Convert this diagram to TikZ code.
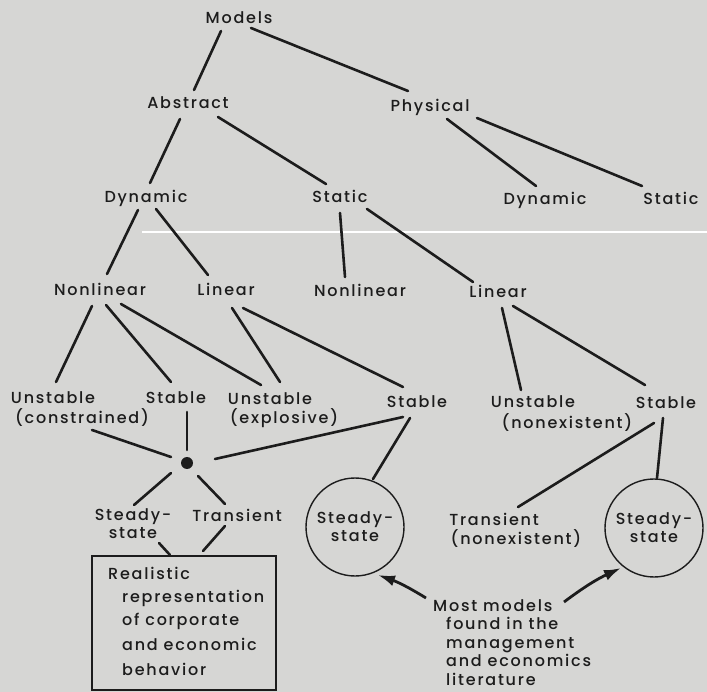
\documentclass[tikz,border=0pt]{standalone}
\usepackage{fontspec}
\setmainfont{Poppins}[LetterSpace=11, UprightFont={* Medium}]
\usetikzlibrary{calc,arrows.meta}
\definecolor{bg}{RGB}{214,214,212}
\definecolor{ink}{RGB}{28,28,28}
\begin{document}
\begin{tikzpicture}[x=1pt,y=-1pt,
  txt/.style={text=ink, font=\fontsize{16}{18}\selectfont, inner sep=0pt},
  lbl/.style={txt, text height=12pt, text depth=0pt},
  conn/.style={draw=ink, line width=2.6pt, line cap=round},
  circ/.style={txt, circle, draw=ink, line width=1.4pt, align=center, minimum size=98pt},
  arr/.style={draw=ink, line width=2.8pt, -{Latex[length=17pt,width=11pt]}}]
\fill[bg] (0,0) rectangle (707,692);
\useasboundingbox (0,0) rectangle (707,692);
\draw[white, line width=1.6pt] (142,232) -- (707,232);

% nodes
\node[lbl] (models) at (239,18) {Models};
\node[lbl] (abstract) at (188,103) {Abstract};
\node[lbl] (physical) at (430,106) {Physical};
\node[lbl] (dynA) at (146,197) {Dynamic};
\node[lbl] (statA) at (340,197) {Static};
\node[lbl] (dynP) at (545,199) {Dynamic};
\node[lbl] (statP) at (671,199) {Static};
\node[lbl] (nonL) at (100,290) {Nonlinear};
\node[lbl] (linL) at (226,290) {Linear};
\node[lbl] (nonM) at (360,291) {Nonlinear};
\node[lbl] (linR) at (498,292) {Linear};
\node[lbl] (uc1) at (53,398) {Unstable};
\node[lbl] (uc2) at (82,418) {(constrained)};
\node[lbl] (stabL) at (176,398) {Stable};
\node[lbl] (ue1) at (270,399) {Unstable};
\node[lbl] (ue2) at (284,418) {(explosive)};
\node[lbl] (stabM) at (417,402) {Stable};
\node[lbl] (un1) at (533,402) {Unstable};
\node[lbl] (un2) at (567,423) {(nonexistent)};
\node[lbl] (stabR) at (666,403) {Stable};
\node[circle, fill=ink, minimum size=12pt, inner sep=0pt] (dot) at (187,463) {};
\node[txt, align=center] (ssL) at (133,524) {Steady-\\state};
\node[lbl] (trL) at (237,515) {Transient};
\node[circ] (circL) at (355,527) {Steady-\\state};
\node[lbl] (trN1) at (494,519) {Transient};
\node[lbl] (trN2) at (516,538) {(nonexistent)};
\node[circ] (circR) at (654,528) {Steady-\\state};
\node[draw=ink, line width=1.8pt, minimum width=184pt, minimum height=134pt, inner sep=0pt] (box) at (184,623) {};
\node[lbl, anchor=west] (b1) at (108,573) {Realistic};
\node[lbl, anchor=west] (b2) at (122,596) {representation};
\node[lbl, anchor=west] (b3) at (122,619) {of corporate};
\node[lbl, anchor=west] (b4) at (122,644) {and economic};
\node[lbl, anchor=west] (b5) at (122,669) {behavior};
\node[lbl, anchor=west] (m1) at (433,605) {Most models};
\node[lbl, anchor=west] (m2) at (446,623) {found in the};
\node[lbl, anchor=west] (m3) at (446,642) {management};
\node[lbl, anchor=west] (m4) at (446,660) {and economics};
\node[lbl, anchor=west] (m5) at (446,679) {literature};

% connectors
\draw[conn] ($(models)+(-18,13)$) -- ($(abstract)+(6,-13)$);
\draw[conn] ($(models)+(12,10)$) -- ($(physical)+(-22,-15)$);
\draw[conn] ($(abstract)+(-8,16)$) -- ($(dynA)+(4,-14)$);
\draw[conn] ($(abstract)+(30,14)$) -- ($(statA)+(-14,-13)$);
\draw[conn] ($(physical)+(17,13)$) -- ($(dynP)+(-9,-13)$);
\draw[conn] ($(physical)+(47,12)$) -- ($(statP)+(-29,-13)$);
\draw[conn] ($(dynA)+(-8,13)$) -- ($(nonL)+(7,-16)$);
\draw[conn] ($(dynA)+(10,12)$) -- ($(linL)+(-18,-15)$);
\draw[conn] ($(statA)+(0,16)$) -- ($(nonM)+(-15,-14)$);
\draw[conn] ($(statA)+(27,12)$) -- ($(linR)+(-25,-10)$);
\draw[conn] ($(nonL)+(-8,16)$) -- ($(uc1)+(3,-16)$);
\draw[conn] ($(nonL)+(6,15)$) -- ($(stabL)+(-5,-16)$);
\draw[conn] ($(nonL)+(21,14)$) -- ($(ue1)+(-9,-14)$);
\draw[conn] ($(linL)+(6,18)$) -- ($(ue1)+(10,-17)$);
\draw[conn] ($(linL)+(17,18)$) -- ($(stabM)+(-14,-15)$);
\draw[conn] ($(linR)+(4,16)$) -- ($(un1)+(-12,-12)$);
\draw[conn] ($(linR)+(15,14)$) -- ($(stabR)+(-21,-18)$);
\draw[conn] ($(uc2)+(10,12)$) -- ($(dot)+(-16,-6)$);
\draw[conn] ($(stabL)+(11,14)$) -- ($(dot)+(0,-13)$);
\draw[conn] ($(stabM)+(-14,15)$) -- ($(dot)+(28,-4)$);
\draw[conn] ($(stabM)+(-7,16)$) -- ($(circL)+(18,-48)$);
\draw[conn] ($(stabR)+(-12,20)$) -- ($(trN1)+(24,-12)$);
\draw[conn] ($(stabR)+(-3,15)$) -- ($(circR)+(3,-50)$);
\draw[conn] ($(dot)+(-16,10)$) -- ($(ssL)+(1,-19)$);
\draw[conn] ($(dot)+(11,13)$) -- ($(trL)+(-12,-11)$);
\draw[conn] ($(ssL)+(26,19)$) -- ($(box)+(-14,-68)$);
\draw[conn] ($(trL)+(-12,11)$) -- ($(box)+(19,-72)$);
\draw[arr] ($(m1.west)+(-7,-7)$) to[bend right=6] ($(circL)+(23,48)$);
\draw[arr] ($(m1.west)+(131,-3)$) to[bend left=6] ($(circR)+(-33,40)$);
\end{tikzpicture}
\end{document}
